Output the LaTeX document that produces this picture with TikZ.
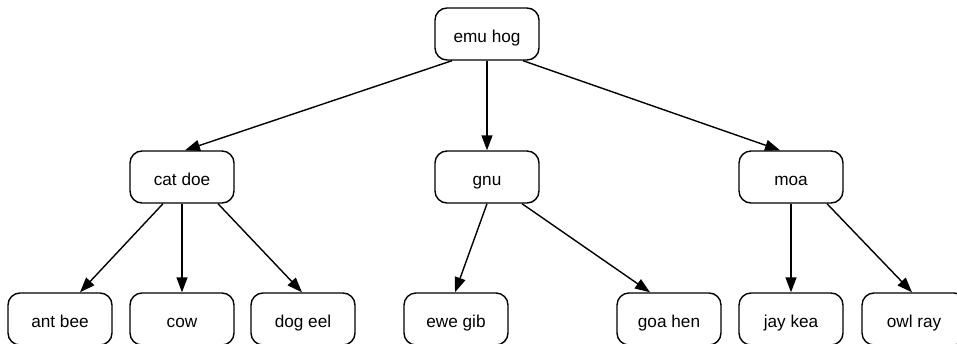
\documentclass[tikz,border=0pt]{standalone}
\usepackage{fontspec}
\setmainfont{Liberation Sans}
\usetikzlibrary{arrows.meta,calc}
\begin{document}
\begin{tikzpicture}[x=1pt,y=-1pt,
  box/.style={draw,line width=1.4pt,rounded corners=12pt,minimum width=104pt,minimum height=52pt,inner sep=0pt,text height=16pt,text depth=0pt,font=\fontsize{17.2}{20}\selectfont},
  edge/.style={line width=1.4pt,-{Triangle[length=15pt,width=11pt]}}]
\useasboundingbox (0,0) rectangle (957,343);
\clip (0,0) rectangle (957,343);
\node[box] (root) at (487,34) {emu hog};
\node[box] (cat) at (182,177) {cat doe};
\node[box] (gnu) at (487,177) {gnu};
\node[box] (moa) at (791,177) {moa};
\node[box] (ant) at (60,319) {ant bee};
\node[box] (cow) at (182,319) {cow};
\node[box] (dog) at (303,319) {dog eel};
\node[box] (ewe) at (456,319) {ewe gib};
\node[box] (goa) at (669,319) {goa hen};
\node[box] (jay) at (791,319) {jay kea};
\node[box] (owl) at (914,319) {owl ray};
\draw[edge] ($(root.south)+(-35,0)$) -- ($(cat.north)+(3,0)$);
\draw[edge] (root.south) -- (gnu.north);
\draw[edge] ($(root.south)+(36,0)$) -- ($(moa.north)+(-11,0)$);
\draw[edge] ($(cat.south)+(-19,0)$) -- ($(ant.north)+(20,0)$);
\draw[edge] (cat.south) -- (cow.north);
\draw[edge] ($(cat.south)+(36,0)$) -- ($(dog.north)+(-1,0)$);
\draw[edge] (gnu.south) -- ($(ewe.north)+(-1,0)$);
\draw[edge] ($(gnu.south)+(35,0)$) -- ($(goa.north)+(-19,0)$);
\draw[edge] (moa.south) -- (jay.north);
\draw[edge] ($(moa.south)+(36,0)$) -- ($(owl.north)+(-2,0)$);
\end{tikzpicture}
\end{document}
